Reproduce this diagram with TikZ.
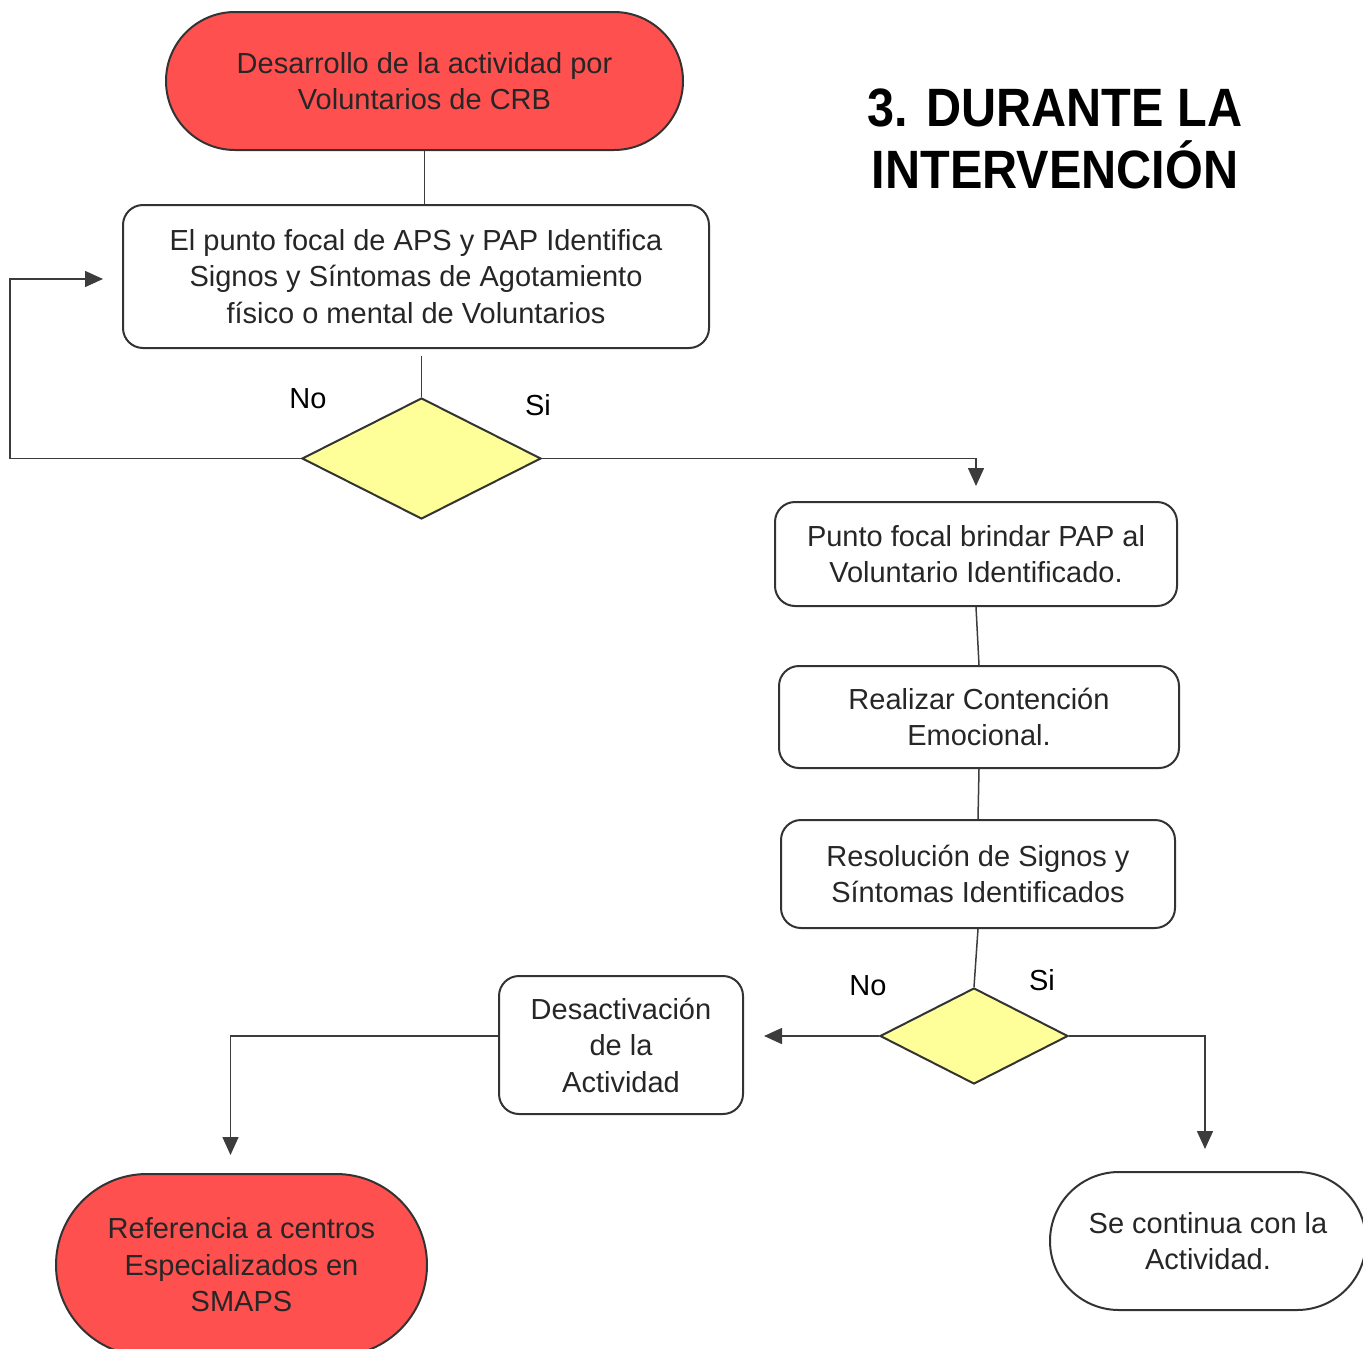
\documentclass[tikz,border=0pt]{standalone}
\usepackage{fontspec}
\usepackage{graphicx}
\setmainfont{Liberation Sans}
\usetikzlibrary{shapes.geometric,arrows.meta}
\definecolor{termred}{HTML}{FF5050}
\definecolor{dyellow}{HTML}{FFFF99}
\definecolor{edge}{HTML}{333333}
\definecolor{conn}{HTML}{3C3C3C}
\definecolor{txt}{HTML}{262626}
\tikzset{
  base/.style={draw=edge, line width=2pt, align=center, text=txt, font=\fontsize{29}{36.5}\selectfont, inner sep=0pt},
  term/.style={base, rectangle, rounded corners=#1},
  procbox/.style={base, rectangle, rounded corners=20pt, fill=white},
  decision/.style={draw=edge, line width=2pt, diamond, fill=dyellow, inner sep=0pt},
  conline/.style={draw=conn, line width=1.5pt},
  arr/.style={conline, -{Triangle[length=18pt,width=16pt]}},
  lbl/.style={font=\fontsize{29}{36.5}\selectfont, text=black, inner sep=0pt}
}
\begin{document}
\begin{tikzpicture}[x=1pt,y=-1pt]
\useasboundingbox (0,0) rectangle (1363,1349);
% nodes
\node[term=69pt, fill=termred, minimum width=517pt, minimum height=138pt] (start) at (424.5,81) {Desarrollo de la actividad por\\Voluntarios de CRB};
\node[procbox, minimum width=586pt, minimum height=143pt] (boxA) at (416,276.5) {El punto focal de APS y PAP Identifica\\Signos y Síntomas de Agotamiento\\físico o mental de Voluntarios};
\node[decision, minimum width=239pt, minimum height=121pt] (d1) at (421.5,458.5) {};
\node[procbox, minimum width=402pt, minimum height=104pt] (boxB) at (976,554) {Punto focal brindar PAP al\\Voluntario Identificado.};
\node[procbox, minimum width=400pt, minimum height=102pt] (boxC) at (979,717) {Realizar Contención\\Emocional.};
\node[procbox, minimum width=394pt, minimum height=108pt] (boxD) at (978,874) {Resolución de Signos y\\Síntomas Identificados};
\node[decision, minimum width=188pt, minimum height=96pt] (d2) at (974,1036) {};
\node[procbox, minimum width=244pt, minimum height=138pt] (boxE) at (621,1045) {Desactivación\\de la\\Actividad};
\node[term=91pt, fill=termred, minimum width=371pt, minimum height=182pt] (endR) at (241.5,1265) {Referencia a centros\\Especializados en\\SMAPS};
\node[term=69pt, fill=white, minimum width=316pt, minimum height=138pt] (endW) at (1208,1241) {Se continua con la\\Actividad.};
% title
\node[font=\fontsize{54}{62}\selectfont\bfseries, align=center, inner sep=0pt] (title) at (1055,139) {\scalebox{0.9}[1]{3. DURANTE LA}\\\scalebox{0.9}[1]{INTERVENCIÓN}};
% labels
\node[lbl] (no1) at (308,399) {No};
\node[lbl] (si1) at (538,405) {Si};
\node[lbl] (no2) at (868,986) {No};
\node[lbl] (si2) at (1042,980) {Si};
% connectors
\draw[conline] (start.south) -- (start.south |- boxA.north);
\draw[conline] (d1.north |- boxA.south) ++(0,7) -- (d1.north);
\draw[arr] (d1.west) -- ++(-291,0) |- ([xshift=-19pt,yshift=-2.5pt]boxA.west);
\draw[arr] (d1.east) -| ([yshift=15pt]boxB.north);
\draw[conline] (boxB.south) -- (boxC.north);
\draw[conline] (boxC.south) -- (boxD.north);
\draw[conline] (boxD.south) -- (d2.north);
\draw[arr] (d2.west) -- ([xshift=20pt]d2.west -| boxE.east);
\draw[arr] (d2.east) -| ([xshift=-3pt,yshift=22pt]endW.north);
\draw[arr] (d2.west -| boxE.west) -| ([xshift=-11pt,yshift=18pt]endR.north);
\end{tikzpicture}
\end{document}
